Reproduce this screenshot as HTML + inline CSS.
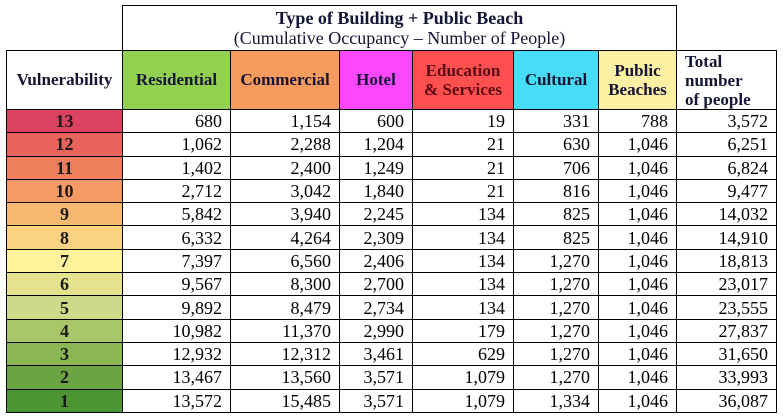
<!DOCTYPE html>
<html><head><style>
body{margin:0;background:#fff;width:783px;height:418px;overflow:hidden;font-family:"Liberation Serif",serif;}
table{position:absolute;left:6px;top:5px;border-collapse:collapse;font-family:"Liberation Serif",serif;}
td{border:1px solid #000;padding:0 8px 0 0;font-size:18px;text-align:right;height:22.3px;line-height:20px;color:#000;}
td.v{text-align:center;font-weight:bold;padding:0;color:#1a1a1a}
th{border:1px solid #000;font-size:17px;font-weight:bold;color:#141436;padding:0;font-family:"Liberation Serif",serif;}
.top{font-size:18px;font-weight:normal;text-align:center;line-height:20px}
</style></head><body>
<table>
<colgroup><col style="width:116px"><col style="width:108px"><col style="width:109px"><col style="width:73px"><col style="width:101px"><col style="width:85px"><col style="width:78px"><col style="width:100px"></colgroup>
<tr style="height:45px"><th style="border:none;border-right:1px solid #000"></th><th colspan="6" class="top"><b style="font-size:18px">Type of Building + Public Beach</b><br>(Cumulative Occupancy – Number of People)</th><th style="border:none;border-left:1px solid #000"></th></tr>
<tr style="height:59px"><th style="background:#fff">Vulnerability</th><th style="background:#92d050">Residential</th><th style="background:#f79b5e">Commercial</th><th style="background:#ff47ff">Hotel</th><th style="background:#ff4f4f;color:#5a0a14;line-height:19px">Education<br>&amp; Services</th><th style="background:#47dcf7">Cultural</th><th style="background:#fdf0a2;line-height:19px">Public<br>Beaches</th><th style="text-align:left;padding-left:8px;line-height:19px">Total<br>number<br>of people</th></tr>
<tr><td class="v" style="background:#db4360">13</td><td>680</td><td>1,154</td><td>600</td><td>19</td><td>331</td><td>788</td><td>3,572</td></tr>
<tr><td class="v" style="background:#e8645a">12</td><td>1,062</td><td>2,288</td><td>1,204</td><td>21</td><td>630</td><td>1,046</td><td>6,251</td></tr>
<tr><td class="v" style="background:#ef7e5c">11</td><td>1,402</td><td>2,400</td><td>1,249</td><td>21</td><td>706</td><td>1,046</td><td>6,824</td></tr>
<tr><td class="v" style="background:#f49b65">10</td><td>2,712</td><td>3,042</td><td>1,840</td><td>21</td><td>816</td><td>1,046</td><td>9,477</td></tr>
<tr><td class="v" style="background:#f8b870">9</td><td>5,842</td><td>3,940</td><td>2,245</td><td>134</td><td>825</td><td>1,046</td><td>14,032</td></tr>
<tr><td class="v" style="background:#fbd182">8</td><td>6,332</td><td>4,264</td><td>2,309</td><td>134</td><td>825</td><td>1,046</td><td>14,910</td></tr>
<tr><td class="v" style="background:#fef39b">7</td><td>7,397</td><td>6,560</td><td>2,406</td><td>134</td><td>1,270</td><td>1,046</td><td>18,813</td></tr>
<tr><td class="v" style="background:#e6e38f">6</td><td>9,567</td><td>8,300</td><td>2,700</td><td>134</td><td>1,270</td><td>1,046</td><td>23,017</td></tr>
<tr><td class="v" style="background:#cfd98a">5</td><td>9,892</td><td>8,479</td><td>2,734</td><td>134</td><td>1,270</td><td>1,046</td><td>23,555</td></tr>
<tr><td class="v" style="background:#aac66a">4</td><td>10,982</td><td>11,370</td><td>2,990</td><td>179</td><td>1,270</td><td>1,046</td><td>27,837</td></tr>
<tr><td class="v" style="background:#8ab654">3</td><td>12,932</td><td>12,312</td><td>3,461</td><td>629</td><td>1,270</td><td>1,046</td><td>31,650</td></tr>
<tr><td class="v" style="background:#6aa443">2</td><td>13,467</td><td>13,560</td><td>3,571</td><td>1,079</td><td>1,270</td><td>1,046</td><td>33,993</td></tr>
<tr><td class="v" style="background:#4c9535">1</td><td>13,572</td><td>15,485</td><td>3,571</td><td>1,079</td><td>1,334</td><td>1,046</td><td>36,087</td></tr>
</table>
</body></html>
